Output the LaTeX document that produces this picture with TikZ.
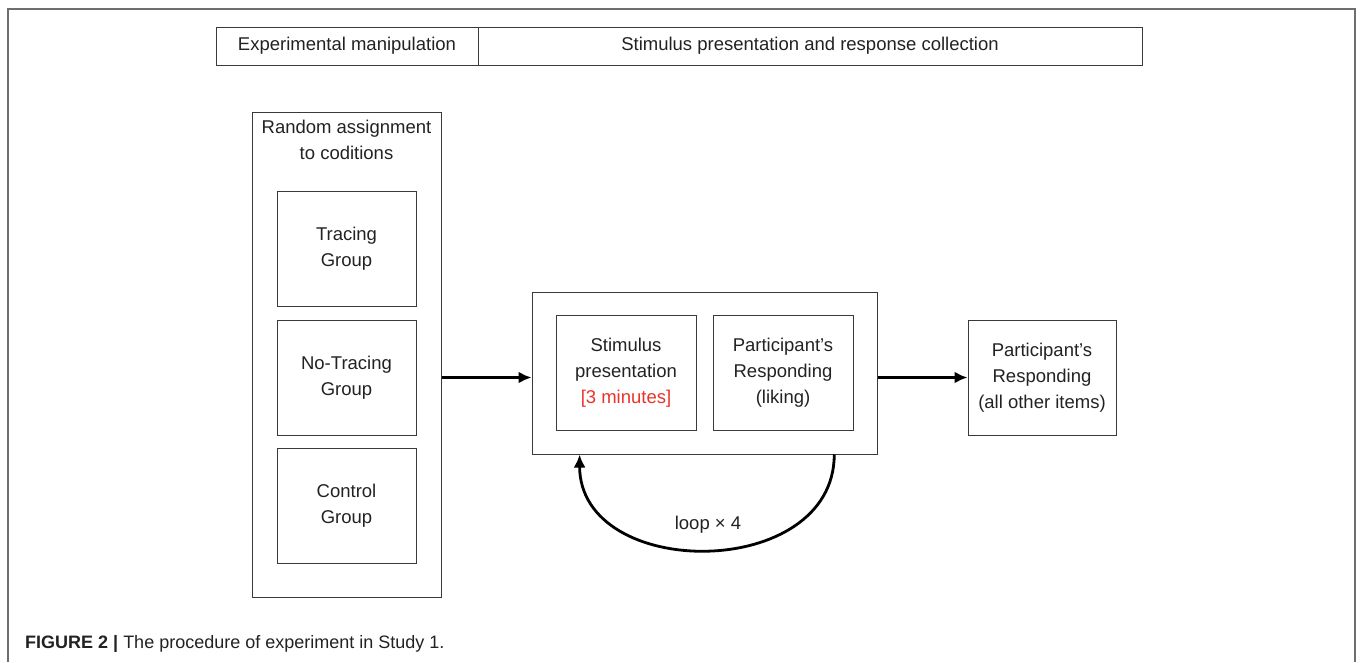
\documentclass[tikz,border=0pt]{standalone}
\usepackage{fontspec}
\setmainfont{Liberation Sans}
\usepackage{xcolor}
\usetikzlibrary{arrows.meta,calc}

\definecolor{bordo}{HTML}{3A3A3A}
\definecolor{cornice}{HTML}{6E6E6E}
\definecolor{testo}{HTML}{222222}
\definecolor{rosso}{HTML}{E8332A}

\tikzset{
    box/.style={draw=bordo, line width=1pt, align=center, inner sep=0pt, text=testo},
    freccia/.style={-{Latex[length=13pt,width=12pt]}, line width=2.8pt, draw=black}
}

\begin{document}
\begin{tikzpicture}[x=1pt,y=-1pt, font=\fontsize{18.5}{26}\selectfont]
        \useasboundingbox (0,0) rectangle (1360,662);

        % Cornice esterna
        \draw[cornice, line width=1.8pt] (8,662) -- (8,9) -- (1355,9) -- (1355,662);

        % Intestazione
        \node[box, minimum width=262pt, minimum height=38pt] (manip) at (347,46) {Experimental manipulation};
        \node[box, minimum width=664pt, minimum height=38pt] (collect) at (810,46) {Stimulus presentation and response collection};

        % Assegnazione casuale
        \node[box, minimum width=189pt, minimum height=485pt] (assign) at (346.5,354.5) {};
        \node[align=center, text=testo] (assigntitle) at (346.5,140) {Random assignment\\to coditions};
        \node[box, minimum width=139pt, minimum height=115pt] (tracing) at (346.5,248.5) {Tracing\\Group};
        \node[box, minimum width=139pt, minimum height=115pt] (notracing) at (346.5,377.5) {No-Tracing\\Group};
        \node[box, minimum width=139pt, minimum height=115pt] (control) at (346.5,506) {Control\\Group};

        % Presentazione e risposta
        \node[box, minimum width=345pt, minimum height=162pt] (block) at (704.5,373) {};
        \node[box, minimum width=140pt, minimum height=115pt] (stimpres) at (626,372.5) {Stimulus\\presentation\\{\color{rosso}[3 minutes]}};
        \node[box, minimum width=140pt, minimum height=115pt] (liking) at (783,372.5) {Participant's\\Responding\\(liking)};

        % Altri item
        \node[box, minimum width=148pt, minimum height=115pt] (others) at (1042,377.5) {Participant's\\Responding\\(all other items)};

        % Frecce
        \draw[freccia] (assign.east |- others) -- (block.west |- others);
        \draw[freccia] (block.east |- others) -- (others.west);

        % Ciclo
        \coordinate (loopA) at ($(block.south west)!0.875!(block.south east)$);
        \coordinate (loopB) at ($(block.south west)!0.139!(block.south east)$);
        \draw[freccia] (loopA) .. controls +(0,127) and +(0,127) .. (loopB);
        \node[text=testo] (looplabel) at (708,525) {loop × 4};

        % Didascalia
        \node[anchor=base west, text=testo, inner sep=0pt, font=\fontsize{18}{20}\selectfont] (caption) at (25,648) {\textbf{FIGURE 2 |} The procedure of experiment in Study 1.};
    \end{tikzpicture}
\end{document}
